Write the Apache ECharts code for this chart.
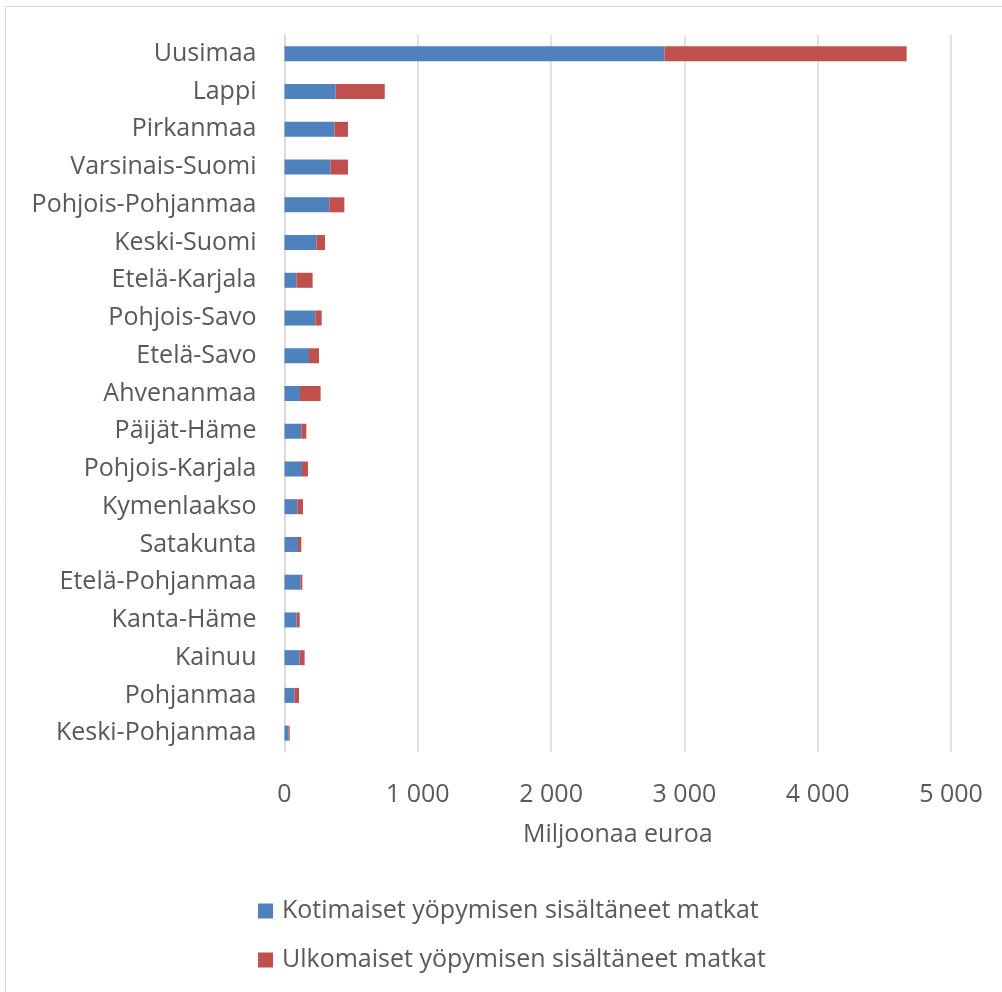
<!DOCTYPE html>
<html><head><meta charset="utf-8">
<script src="https://cdn.jsdelivr.net/npm/echarts@6/dist/echarts.min.js"></script>
<style>html,body{margin:0;padding:0;background:#fff}#c{width:1002px;height:992px}</style>
</head><body><div id="c"></div>
<script>
const categories = ["Uusimaa","Lappi","Pirkanmaa","Varsinais-Suomi","Pohjois-Pohjanmaa","Keski-Suomi","Etelä-Karjala","Pohjois-Savo","Etelä-Savo","Ahvenanmaa","Päijät-Häme","Pohjois-Karjala","Kymenlaakso","Satakunta","Etelä-Pohjanmaa","Kanta-Häme","Kainuu","Pohjanmaa","Keski-Pohjanmaa"];
const kotimaiset = [2850,384,374,346,336,239,89,231,184,116,126,131,96,101,119,91,114,74,29];
const ulkomaiset = [1817,368,102,130,113,65,122,48,75,155,38,45,43,25,15,23,37,35,10];
const seriesNames = ["Kotimaiset yöpymisen sisältäneet matkat","Ulkomaiset yöpymisen sisältäneet matkat"];
const xTicks = [0,1000,2000,3000,4000,5000];

const font = "'Open Sans', 'Noto Sans', sans-serif";
const chart = echarts.init(document.getElementById('c'), null, {renderer:'canvas'});
chart.setOption({
  animation:false,
  backgroundColor:'#fff',
  graphic:[{type:'rect',shape:{x:5.5,y:6.5,width:1000,height:1000},style:{fill:'none',stroke:'#d9d9d9',lineWidth:1}}],
  grid:{left:284.5,right:51,top:35,bottom:240,containLabel:false},
  legend:{
    orient:'vertical',left:253,top:891,itemWidth:15,itemHeight:15,itemGap:19,
    icon:'rect',
    textStyle:{fontFamily:font,fontSize:25,lineHeight:30,color:'#595959',padding:[0,0,0,4]},
    data:seriesNames
  },
  xAxis:{
    type:'value',min:xTicks[0],max:xTicks[xTicks.length-1],interval:xTicks[1]-xTicks[0],
    axisLine:{show:false},axisTick:{show:false},
    splitLine:{lineStyle:{color:'#d9d9d9',width:1.5}},
    axisLabel:{fontFamily:font,fontSize:25,color:'#595959',margin:30,
      formatter:v=>String(v).replace(/\B(?=(\d{3})+(?!\d))/g,' ')},
    name:'Miljoonaa euroa',nameLocation:'middle',nameGap:70,
    nameTextStyle:{fontFamily:font,fontSize:25,color:'#595959'}
  },
  yAxis:{
    type:'category',inverse:true,data:categories,
    axisLine:{lineStyle:{color:'#d9d9d9',width:1.5}},axisTick:{show:false},
    axisLabel:{fontFamily:font,fontSize:25,color:'#595959',margin:28}
  },
  series:[
    {name:seriesNames[0],type:'bar',stack:'a',data:kotimaiset,barWidth:15,itemStyle:{color:'#4f81bd'}},
    {name:seriesNames[1],type:'bar',stack:'a',data:ulkomaiset,barWidth:15,itemStyle:{color:'#c0504d'}}
  ]
});
</script></body></html>
